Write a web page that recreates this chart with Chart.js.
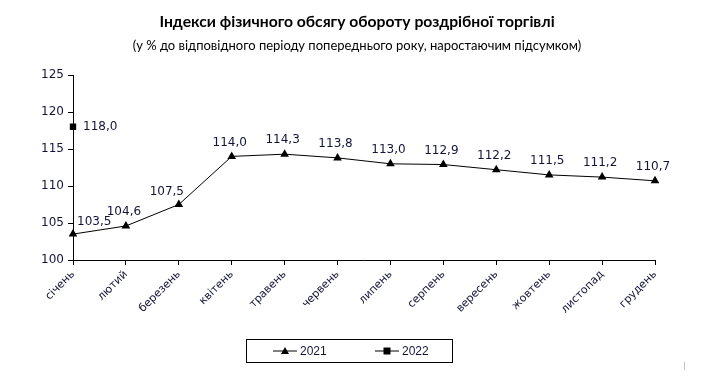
<!DOCTYPE html>
<html>
<head>
<meta charset="utf-8">
<script src="https://cdn.jsdelivr.net/npm/chart.js@4/dist/chart.umd.min.js"></script>
<style>
html,body{margin:0;padding:0;background:#fff;}
#wrap{width:707px;height:380px;position:relative;}
</style>
</head>
<body>
<div id="wrap"><canvas id="c" width="707" height="380"></canvas></div>
<script>
const titleText = 'Індекси фізичного обсягу обороту роздрібної торгівлі';
const subtitleText = '(у % до відповідного періоду попереднього року, наростаючим підсумком)';
const categories = ['січень','лютий','березень','квітень','травень','червень','липень','серпень','вересень','жовтень','листопад','грудень'];
const values2021 = [103.5,104.6,107.5,114.0,114.3,113.8,113.0,112.9,112.2,111.5,111.2,110.7];
const values2022 = [118.0,null,null,null,null,null,null,null,null,null,null,null];
const seriesNames = ['2021','2022'];
const yTicks = [100,105,110,115,120,125];

const textColor = '#141438';
const fmt = v => v.toFixed(1).replace('.', ',');

const titlePlugin = {
  id: 'fixedTitles',
  afterDraw(chart) {
    const ctx = chart.ctx;
    ctx.save();
    ctx.fillStyle = '#000';
    ctx.textAlign = 'center';
    ctx.textBaseline = 'middle';
    ctx.font = 'bold 15.7px Lato, sans-serif';
    ctx.fillText(titleText, 357, 22);
    ctx.font = '13px Lato, sans-serif';
    ctx.fillText(subtitleText, 357, 46);
    // small grey frame mark at bottom right
    ctx.strokeStyle = '#c0c0c0';
    ctx.lineWidth = 1;
    ctx.beginPath();
    ctx.moveTo(684.5, 362);
    ctx.lineTo(684.5, 370);
    ctx.stroke();
    ctx.restore();
  }
};

const labelPlugin = {
  id: 'dataLabels',
  afterDatasetsDraw(chart) {
    const ctx = chart.ctx;
    ctx.save();
    ctx.font = '12px "DejaVu Sans", sans-serif';
    ctx.fillStyle = textColor;
    ctx.textBaseline = 'middle';
    chart.data.datasets.forEach((ds, di) => {
      const meta = chart.getDatasetMeta(di);
      meta.data.forEach((pt, i) => {
        const v = ds.data[i];
        if (v === null || v === undefined) return;
        let x = pt.x, y = pt.y;
        if (di === 1) {
          ctx.textAlign = 'left';
          ctx.fillText(fmt(v), x + 10, y);
        } else if (i === 0) {
          ctx.textAlign = 'left';
          ctx.fillText(fmt(v), x + 4, y - 12);
        } else if (i === 2) {
          ctx.textAlign = 'center';
          ctx.fillText(fmt(v), x - 12, y - 13);
        } else {
          ctx.textAlign = 'center';
          ctx.fillText(fmt(v), x - 2, y - 14);
        }
      });
    });
    ctx.restore();
  }
};

const legendPlugin = {
  id: 'boxLegend',
  afterDraw(chart) {
    const ctx = chart.ctx;
    ctx.save();
    const bx = 246.5, by = 339.5, bw = 206, bh = 23;
    ctx.strokeStyle = '#000';
    ctx.lineWidth = 1;
    ctx.strokeRect(bx, by, bw, bh);
    const cy = by + bh / 2;
    const items = [{x: 273, style: 'triangle'}, {x: 375, style: 'rect'}];
    ctx.font = '12px "Liberation Sans", Arial, sans-serif';
    ctx.textBaseline = 'middle';
    ctx.textAlign = 'left';
    items.forEach((it, k) => {
      ctx.strokeStyle = '#000';
      ctx.beginPath();
      ctx.moveTo(it.x, cy);
      ctx.lineTo(it.x + 24, cy);
      ctx.stroke();
      ctx.fillStyle = '#000';
      const mx = it.x + 12;
      if (it.style === 'triangle') {
        ctx.beginPath();
        ctx.moveTo(mx, cy - 4);
        ctx.lineTo(mx + 4, cy + 3);
        ctx.lineTo(mx - 4, cy + 3);
        ctx.closePath();
        ctx.fill();
      } else {
        ctx.fillRect(mx - 3.5, cy - 3.5, 7, 7);
      }
      ctx.fillStyle = textColor;
      ctx.fillText(seriesNames[k], it.x + 27, cy + 1);
    });
    ctx.restore();
  }
};

new Chart(document.getElementById('c'), {
  type: 'line',
  data: {
    labels: categories,
    datasets: [
      {
        label: seriesNames[0],
        data: values2021,
        borderColor: '#000',
        backgroundColor: '#000',
        borderWidth: 1,
        pointStyle: 'triangle',
        pointRadius: 5,
        pointBorderWidth: 0,
        pointBackgroundColor: '#000',
        tension: 0
      },
      {
        label: seriesNames[1],
        data: values2022,
        borderColor: '#000',
        backgroundColor: '#000',
        borderWidth: 1,
        pointStyle: 'rect',
        pointRadius: 4.5,
        pointBorderWidth: 0,
        pointBackgroundColor: '#000',
        showLine: false
      }
    ]
  },
  options: {
    responsive: false,
    animation: false,
    events: [],
    layout: { padding: { left: 0, right: 52, top: 75, bottom: 0 } },
    plugins: {
      legend: { display: false },
      tooltip: { enabled: false },
      title: { display: false },
      subtitle: { display: false }
    },
    scales: {
      x: {
        offset: false,
        grid: { display: true, drawOnChartArea: false, drawTicks: true, tickLength: 5, color: '#000' },
        border: { display: true, color: '#000', width: 1 },
        ticks: {
          color: textColor,
          font: { family: '"DejaVu Sans", sans-serif', size: 11 },
          minRotation: 45, maxRotation: 45, autoSkip: false, padding: 3
        },
        afterFit(s) { s.height = 120; }
      },
      y: {
        min: 100, max: 125,
        afterBuildTicks(s) { s.ticks = yTicks.map(v => ({ value: v })); },
        grid: { display: true, drawOnChartArea: false, drawTicks: true, tickLength: 5, color: '#000' },
        border: { display: true, color: '#000', width: 1 },
        ticks: {
          color: textColor,
          font: { family: '"DejaVu Sans", sans-serif', size: 12 },
          padding: 4
        },
        afterFit(s) { s.width = 73; }
      }
    }
  },
  plugins: [labelPlugin, legendPlugin, titlePlugin]
});
</script>
</body>
</html>
